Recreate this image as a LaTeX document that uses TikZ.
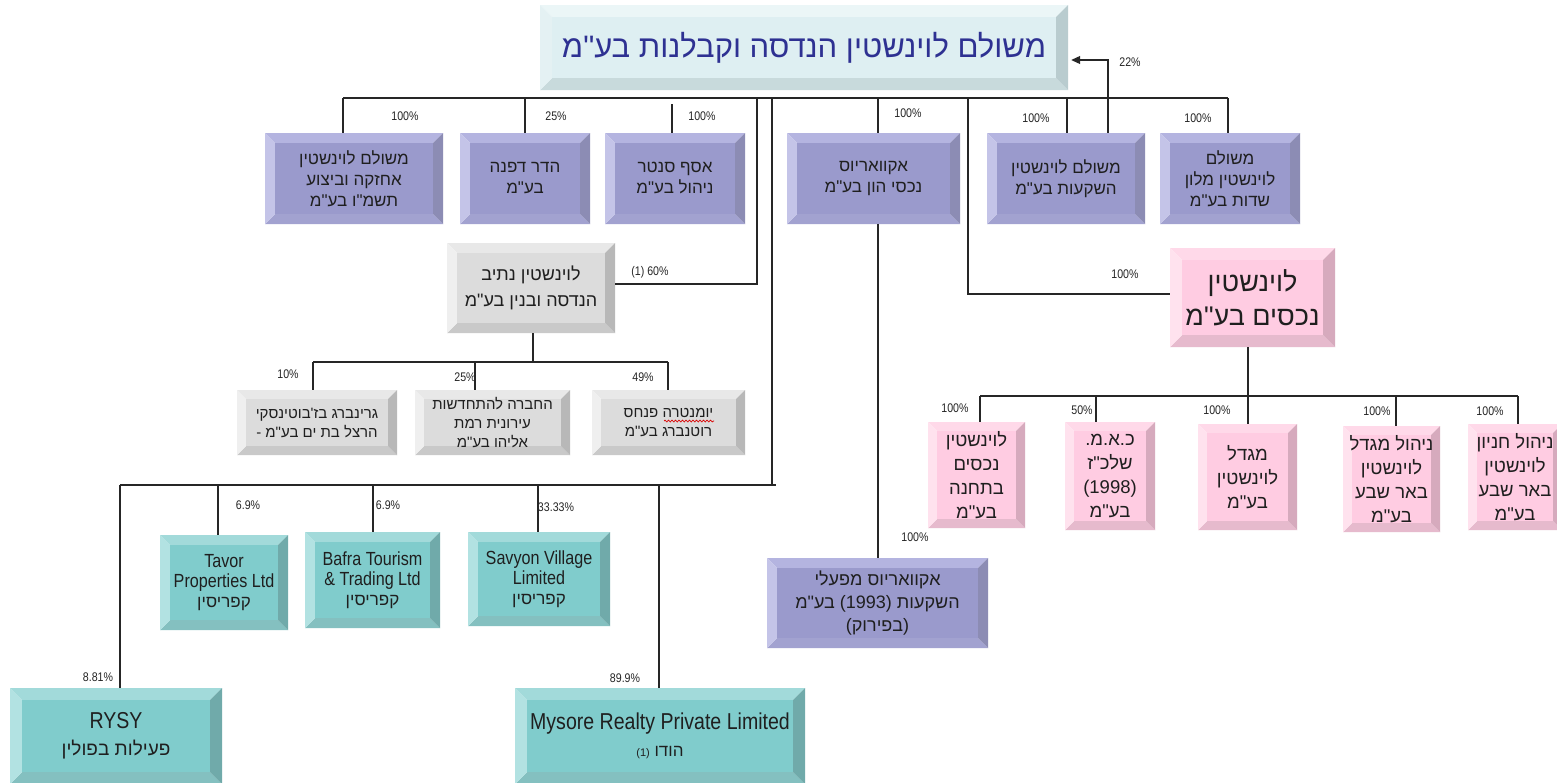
\documentclass[tikz,border=0pt]{standalone}
\usepackage{fontspec}
\setmainfont{Liberation Sans}
\newfontfamily\heb[Script=Hebrew]{Liberation Sans}
\newfontfamily\nar[FakeStretch=0.85]{Liberation Sans}
\usetikzlibrary{arrows.meta,decorations.pathmorphing}
\TeXXeTstate=1
\newcommand\hr[1]{\beginR #1\endR}
% colour sets: T top, B bottom, L left, R right, F face
\definecolor{tT}{HTML}{EBF6F7}\definecolor{tB}{HTML}{C8DADC}\definecolor{tL}{HTML}{E4F1F3}\definecolor{tR}{HTML}{B9CCCF}\definecolor{tF}{HTML}{DEEFF2}
\definecolor{pT}{HTML}{B4B4E0}\definecolor{pB}{HTML}{A2A2D0}\definecolor{pL}{HTML}{C4C4E8}\definecolor{pR}{HTML}{8C8CB4}\definecolor{pF}{HTML}{9A9ACC}
\definecolor{gT}{HTML}{E8E8E8}\definecolor{gB}{HTML}{C9C9C9}\definecolor{gL}{HTML}{EFEFEF}\definecolor{gR}{HTML}{B8B8B8}\definecolor{gF}{HTML}{DCDCDC}
\definecolor{kT}{HTML}{FFD9E9}\definecolor{kB}{HTML}{E6BACD}\definecolor{kL}{HTML}{FFE2EE}\definecolor{kR}{HTML}{D6AABD}\definecolor{kF}{HTML}{FFCCE2}
\definecolor{cT}{HTML}{A2DADA}\definecolor{cB}{HTML}{84C0C0}\definecolor{cL}{HTML}{B2E2E2}\definecolor{cR}{HTML}{70AAAA}\definecolor{cF}{HTML}{80CCCC}
\definecolor{navy}{HTML}{2E3192}
\newcommand\bevel[6]{%
  \fill[#5T] (#1,#2) -- (#3,#2) -- ({#3-#6},{#2+#6}) -- ({#1+#6},{#2+#6}) -- cycle;
  \fill[#5B] (#1,#4) -- (#3,#4) -- ({#3-#6},{#4-#6}) -- ({#1+#6},{#4-#6}) -- cycle;
  \fill[#5L] (#1,#2) -- ({#1+#6},{#2+#6}) -- ({#1+#6},{#4-#6}) -- (#1,#4) -- cycle;
  \fill[#5R] (#3,#2) -- ({#3-#6},{#2+#6}) -- ({#3-#6},{#4-#6}) -- (#3,#4) -- cycle;
  \fill[#5F] ({#1+#6},{#2+#6}) rectangle ({#3-#6},{#4-#6});}
\newcommand\cbox[9]{\bevel{#2}{#3}{#4}{#5}{#6}{#7}%
  \node[boxtxt,#8,minimum width={(#4-#2)*1pt},minimum height={(#5-#3)*1pt}] (#1) at ({(#2+#4)/2},{(#3+#5)/2}) {#9};}
\tikzset{
  boxtxt/.style={inner sep=0pt,align=center,text=black!88},
  ttl/.style={font={\heb\fontsize{31}{36}\selectfont},text=navy},
  h17/.style={font={\heb\fontsize{17}{21}\selectfont}},
  h18/.style={font={\heb\fontsize{18}{26}\selectfont}},
  h15/.style={font={\heb\fontsize{15}{19}\selectfont}},
  h27/.style={font={\heb\fontsize{27}{34}\selectfont}},
  hp/.style={font={\heb\fontsize{18.5}{24}\selectfont}},
  ha/.style={font={\heb\fontsize{18}{23}\selectfont}},
  en/.style={font={\nar\fontsize{19}{20}\selectfont}},
  enb/.style={font={\nar\fontsize{23}{27}\selectfont}},
  conn/.style={draw=black!85,line width=1.1pt},
  pct/.style={font={\nar\fontsize{12.5}{14}\selectfont},text=black!85,inner sep=0pt},
  spell/.style={draw=red!85!black,line width=0.7pt,decorate,decoration={snake,amplitude=0.9pt,segment length=3.5pt}}
}
\begin{document}
\begin{tikzpicture}[x=1pt,y=-1pt]
\useasboundingbox (0,0) rectangle (1557,782);
\clip (0,0) rectangle (1557,782);
\fill[white] (0,0) rectangle (1557,782);
% ---------- boxes
\cbox{title}{540}{5}{1068}{90}{t}{12}{ttl}{\hr{משולם לוינשטין הנדסה וקבלנות בע"מ}}
\cbox{b1}{265}{133}{443}{224}{p}{10}{h17}{\hr{משולם לוינשטין}\\\hr{אחזקה וביצוע}\\\hr{תשמ"ו בע"מ}}
\cbox{b2}{460}{133}{590}{224}{p}{10}{h17}{\hr{הדר דפנה}\\\hr{בע"מ}}
\cbox{b3}{605}{133}{745}{224}{p}{10}{h17}{\hr{אסף סנטר}\\\hr{ניהול בע"מ}}
\cbox{aq}{787}{133}{960}{224}{p}{10}{h17}{\hr{אקוואריוס}\\\hr{נכסי הון בע"מ}}
\cbox{inv}{987}{133}{1145}{224}{p}{10}{h17}{\hr{משולם לוינשטין}\\\hr{השקעות בע"מ}}
\cbox{hotel}{1160}{133}{1300}{224}{p}{10}{h17}{\hr{משולם}\\\hr{לוינשטין מלון}\\\hr{שדות בע"מ}}
\cbox{nat}{447}{243}{615}{333}{g}{10}{h18}{\hr{לוינשטין נתיב}\\\hr{הנדסה ובנין בע"מ}}
\cbox{g1}{237}{390}{397}{455}{g}{9}{h15}{\hr{גרינברג בז'בוטינסקי}\\\hr{הרצל בת ים בע"מ -}}
\cbox{g2}{415}{390}{570}{455}{g}{9}{h15}{\hr{החברה להתחדשות}\\\hr{עירונית רמת}\\\hr{אליהו בע"מ}}
\cbox{g3}{592}{390}{745}{455}{g}{9}{h15}{\hr{יומנטרה פנחס}\\\hr{רוטנברג בע"מ}}
\cbox{pink}{1170}{248}{1335}{347}{k}{12}{h27}{\hr{לוינשטין}\\\hr{נכסים בע"מ}}
\cbox{p1}{928}{422}{1025}{528}{k}{9}{hp}{\hr{לוינשטין}\\\hr{נכסים}\\\hr{בתחנה}\\\hr{בע"מ}}
\cbox{p2}{1065}{422}{1155}{530}{k}{9}{hp}{\hr{כ.א.מ.}\\\hr{שלכ"ז}\\(1998)\\\hr{בע"מ}}
\cbox{p3}{1198}{424}{1297}{530}{k}{9}{hp}{\hr{מגדל}\\\hr{לוינשטין}\\\hr{בע"מ}}
\cbox{p4}{1343}{426}{1440}{532}{k}{9}{hp}{\hr{ניהול מגדל}\\\hr{לוינשטין}\\\hr{באר שבע}\\\hr{בע"מ}}
\cbox{p5}{1468}{424}{1562}{530}{k}{9}{hp}{\hr{ניהול חניון}\\\hr{לוינשטין}\\\hr{באר שבע}\\\hr{בע"מ}}
\cbox{aq2}{767}{558}{988}{648}{p}{10}{ha}{\hr{אקוואריוס מפעלי}\\\hr{השקעות \beginL(1993)\endL{} בע"מ}\\\hr{(בפירוק)}}
\cbox{tavor}{160}{535}{288}{630}{c}{10}{en}{Tavor\\Properties Ltd\\{\heb\fontsize{17}{20}\selectfont\hr{קפריסין}}}
\cbox{bafra}{305}{532}{440}{628}{c}{10}{en}{Bafra Tourism\\\& Trading Ltd\\{\heb\fontsize{17}{20}\selectfont\hr{קפריסין}}}
\cbox{savyon}{468}{532}{610}{626}{c}{10}{en}{Savyon Village\\Limited\\{\heb\fontsize{17}{20}\selectfont\hr{קפריסין}}}
\cbox{rysy}{10}{688}{222}{784}{c}{12}{enb}{RYSY\\{\heb\fontsize{19}{27}\selectfont\hr{פעילות בפולין}}}
\cbox{mysore}{515}{688}{805}{784}{c}{12}{enb}{Mysore Realty Private Limited\\{\heb\fontsize{17}{27}\selectfont\hr{הודו {\fontsize{11}{13}\selectfont\beginL(1)\endL}}}}
% spell-check mark under the first word of g3
\coordinate (sp1) at (664,421);
\coordinate (sp2) at (714,421);
\draw[spell] (sp1) -- (sp2);
% ---------- top bus
\coordinate (busL) at (343,98);
\coordinate (busR) at (1228,98);
\draw[conn] (busL) -- (busR);
\draw[conn] (busL) -- (busL |- b1.north);
\coordinate (d2) at (525,98);
\draw[conn] (d2) -- (d2 |- b2.north);
\coordinate (d3) at (672,104);
\draw[conn] (d3) -- (d3 |- b3.north);
\coordinate (d4) at (757,98);
\coordinate (k4) at (757,284);
\draw[conn] (d4) -- (k4) -- (k4 -| nat.east);
\coordinate (d5) at (772,98);
\coordinate (bus3L) at (120,485);
\coordinate (bus3R) at (776,485);
\draw[conn] (d5) -- (d5 |- bus3R);
\draw[conn] (bus3L) -- (bus3R);
\coordinate (d6) at (878,98);
\draw[conn] (d6) -- (d6 |- aq.north);
\draw[conn] (d6 |- aq.south) -- (d6 |- aq2.north);
\coordinate (d7) at (968,98);
\coordinate (k7) at (968,294);
\draw[conn] (d7) -- (k7) -- (k7 -| pink.west);
\coordinate (d8) at (1067,98);
\draw[conn] (d8) -- (d8 |- inv.north);
\draw[conn] (busR) -- (busR |- hotel.north);
\coordinate (ar) at (1108,60);
\draw[conn,-{Triangle[length=9pt,width=8pt]},shorten >=3pt] (ar |- inv.north) -- (ar) -- (ar -| title.east);
% ---------- gray subtree
\coordinate (gb) at (533,362);
\coordinate (gbL) at (313,362);
\coordinate (gbR) at (668,362);
\draw[conn] (nat.south -| gb) -- (gb);
\draw[conn] (gbL) -- (gbR);
\draw[conn] (gbL) -- (gbL |- g1.north);
\coordinate (g2d) at (475,362);
\draw[conn] (g2d) -- (g2d |- g2.north);
\draw[conn] (gbR) -- (gbR |- g3.north);
% ---------- lower bus
\coordinate (t1) at (218,485);
\coordinate (t2) at (373,485);
\coordinate (t3) at (538,485);
\coordinate (t4) at (659,485);
\draw[conn] (t1) -- (t1 |- tavor.north);
\draw[conn] (t2) -- (t2 |- bafra.north);
\draw[conn] (t3) -- (t3 |- savyon.north);
\draw[conn] (bus3L) -- (bus3L |- rysy.north);
\draw[conn] (t4) -- (t4 |- mysore.north);
% ---------- pink subtree
\coordinate (pb) at (1248,396);
\coordinate (pbL) at (980,396);
\coordinate (pbR) at (1518,396);
\draw[conn] (pink.south -| pb) -- (pb);
\draw[conn] (pbL) -- (pbR);
\draw[conn] (pbL) -- (pbL |- p1.north);
\coordinate (q2) at (1096,396);
\draw[conn] (q2) -- (q2 |- p2.north);
\draw[conn] (pb) -- (pb |- p3.north);
\coordinate (q4) at (1396,396);
\draw[conn] (q4) -- (q4 |- p4.north);
\draw[conn] (pbR) -- (pbR |- p5.north);
% ---------- percentages
\node[pct] (l1) at (405,116) {100\%};
\node[pct] (l2) at (556,116) {25\%};
\node[pct] (l3) at (702,116) {100\%};
\node[pct] (l4) at (908,113) {100\%};
\node[pct] (l5) at (1036,118) {100\%};
\node[pct] (l6) at (1198,118) {100\%};
\node[pct] (l7) at (1130,62) {22\%};
\node[pct] (l8) at (650,272) {(1) 60\%};
\node[pct] (l9) at (1125,274) {100\%};
\node[pct] (l10) at (288,374) {10\%};
\node[pct] (l11) at (465,377) {25\%};
\node[pct] (l12) at (643,377) {49\%};
\node[pct] (l13) at (248,505) {6.9\%};
\node[pct] (l14) at (388,505) {6.9\%};
\node[pct] (l15) at (556,507) {33.33\%};
\node[pct] (l16) at (98,677) {8.81\%};
\node[pct] (l17) at (625,678) {89.9\%};
\node[pct] (l18) at (915,537) {100\%};
\node[pct] (l19) at (955,408) {100\%};
\node[pct] (l20) at (1082,410) {50\%};
\node[pct] (l21) at (1217,410) {100\%};
\node[pct] (l22) at (1377,411) {100\%};
\node[pct] (l23) at (1490,411) {100\%};
\end{tikzpicture}
\end{document}
